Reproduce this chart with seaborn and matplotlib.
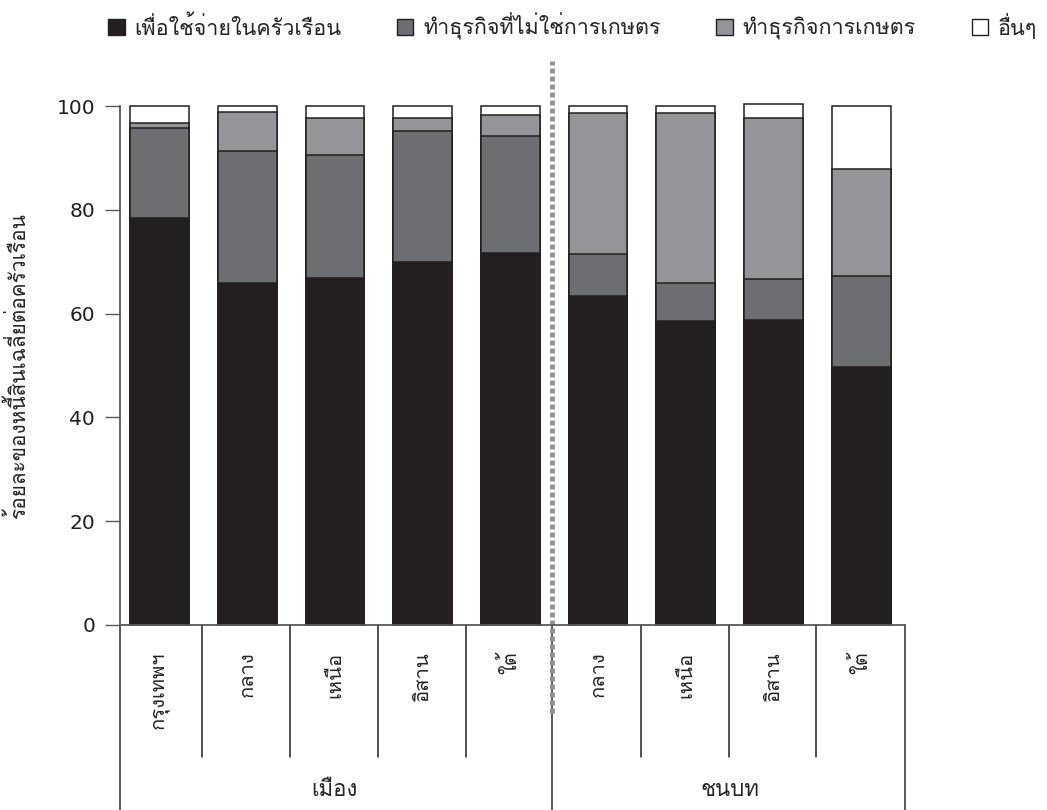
import matplotlib
matplotlib.use('Agg')
import matplotlib.pyplot as plt
import matplotlib.transforms as mtransforms
from matplotlib.patches import Patch
import numpy as np
import pandas as pd
import seaborn as sns

# Data (percent of average household debt)
regions = ['กรุงเทพฯ', 'กลาง', 'เหนือ', 'อิสาน', 'ใต้',
           'กลาง', 'เหนือ', 'อิสาน', 'ใต้']
areas = ['เมือง', 'ชนบท']
area_sizes = [5, 4]
household = [78.4, 65.8, 66.9, 69.9, 71.7, 63.3, 58.5, 58.8, 49.8]
nonfarm = [17.4, 25.6, 23.7, 25.2, 22.6, 8.1, 7.4, 7.9, 17.4]
farm = [1.0, 7.4, 7.0, 2.5, 4.0, 27.3, 32.7, 30.9, 20.7]
other = [3.2, 1.2, 2.4, 2.4, 1.7, 1.3, 1.4, 2.8, 12.1]

series_names = ['เพื่อใช้จ่ายในครัวเรือน', 'ทำธุรกิจที่ไม่ใช่การเกษตร',
                'ทำธุรกิจการเกษตร', 'อื่นๆ']
colors = ['#231f20', '#6d6e71', '#939598', '#ffffff']
edge = '#231f20'

sns.set_style('white')
plt.rcParams['font.family'] = ['Loma', 'DejaVu Sans']

df = pd.DataFrame({'id': [str(i) for i in range(len(regions))],
                   'household': household, 'nonfarm': nonfarm,
                   'farm': farm, 'other': other})
cols = ['household', 'nonfarm', 'farm', 'other']
cum = df[cols].cumsum(axis=1)

fig = plt.figure(figsize=(10.47, 8.10), dpi=100)
ax = fig.add_axes([120 / 1047, 1 - 625 / 810, 785 / 1047, 519 / 810])

# stacked bars: draw cumulative totals from the top layer down
for col, c in zip(cols[::-1], colors[::-1]):
    sns.barplot(x=df['id'], y=cum[col], order=list(df['id']), color=c,
                saturation=1, width=0.67, edgecolor=edge, linewidth=1.1,
                ax=ax)
for p in ax.patches:
    p.set_clip_on(False)

ax.set_xlim(-0.45, 8.5)
ax.set_ylim(0, 100)
ax.set_yticks([0, 20, 40, 60, 80, 100])
ax.tick_params(axis='y', length=11, width=1, color='#58595b', pad=7,
               labelsize=14.5, left=True)
for lab in ax.get_yticklabels():
    lab.set_fontfamily('DejaVu Sans')
    lab.set_color('#231f20')
ax.set_xticks(range(len(regions)))
ax.set_xticklabels(regions, rotation=90, fontsize=14.5, va='top')
ax.tick_params(axis='x', length=0, pad=19)
ax.set_xlabel('')
ax.set_ylabel('ร้อยละของหนี้สินเฉลี่ยต่อครัวเรือน', fontsize=15, labelpad=20)
for s in ['top', 'right']:
    ax.spines[s].set_visible(False)
ax.spines['left'].set_color('#58595b')
ax.spines['left'].set_linewidth(1.3)
ax.spines['bottom'].set_color('#58595b')
ax.spines['bottom'].set_linewidth(1.3)

# category separators and group boxes under the axis
trans = mtransforms.blended_transform_factory(ax.transData, ax.transAxes)
bounds = np.cumsum([0] + area_sizes) - 0.5
for i in range(len(regions) - 1):
    xb = i + 0.49
    if np.isclose(bounds, i + 0.5).any():
        continue
    ax.plot([xb, xb], [0, -0.254], color=edge, lw=1.1,
            transform=trans, clip_on=False)
grp_x = [-0.45, 4.48, 8.5]
for xb in grp_x:
    ax.plot([xb, xb], [0, -0.36], color='#58595b', lw=1.4,
            transform=trans, clip_on=False)
start = 0
for name, n in zip(areas, area_sizes):
    ax.text(start + (n - 1) / 2, -0.318, name, transform=trans,
            ha='center', va='center', fontsize=16)
    start += n

# dashed divider between urban and rural
ax.plot([4.48, 4.48], [-0.17, 1.087], color='#939598', lw=3.6,
        linestyle=(0, (1, 0.6)), transform=trans, clip_on=False,
        solid_capstyle='butt', dash_capstyle='butt')

handles = [Patch(facecolor=c, edgecolor=edge, linewidth=1) for c in colors]
fig.legend(handles, series_names, loc='upper left', ncol=4, frameon=False,
           bbox_to_anchor=(0.085, 1.008), fontsize=15.5, handlelength=0.75,
           handleheight=0.75, handletextpad=0.45, columnspacing=2.6)

fig.savefig('out.png', dpi=100)
